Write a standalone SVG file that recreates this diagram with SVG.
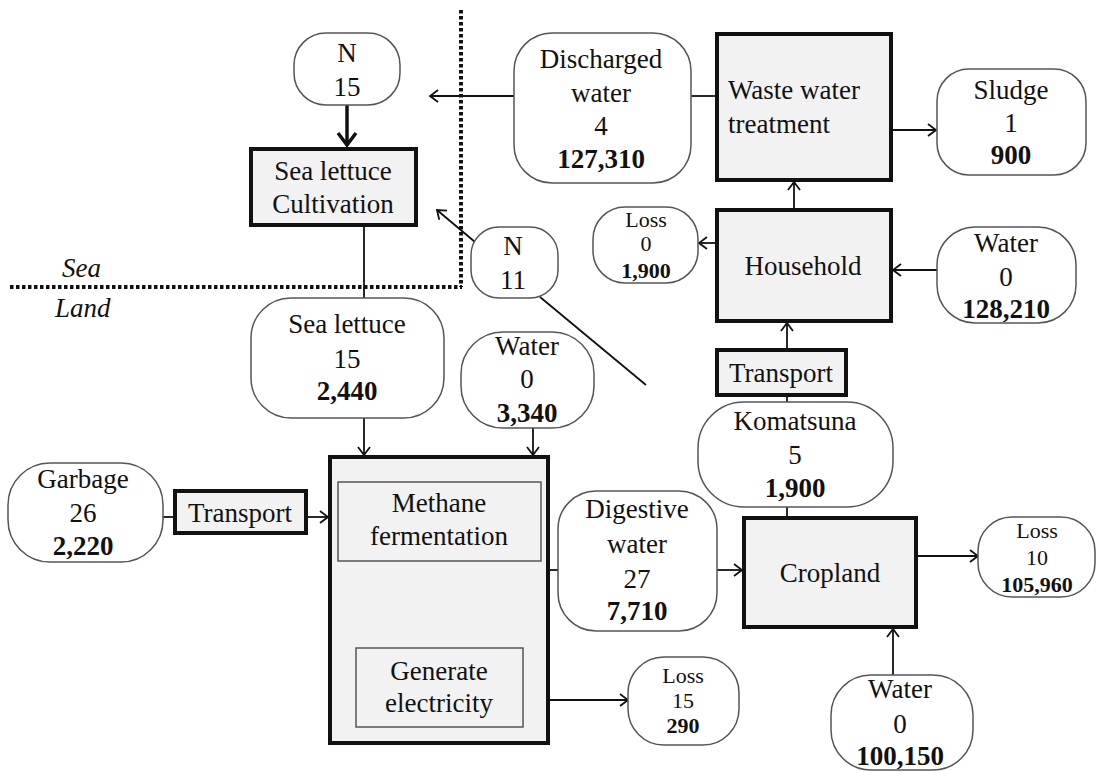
<svg xmlns="http://www.w3.org/2000/svg" width="1096" height="772" viewBox="0 0 1096 772">
  <style>
    text { font-family: "Liberation Serif", "Times New Roman", serif; font-size: 27px; fill: #111; text-anchor: middle; }
    .small { font-size: 22px; }
    .b { font-weight: bold; }
    .it { font-style: italic; text-anchor: start; }
    .start { text-anchor: start; }
    .proc { fill: #f2f2f2; stroke: #111; stroke-width: 4; }
    .inner { fill: #f2f2f2; stroke: #555; stroke-width: 1.5; }
    .flow { fill: #fff; stroke: #555; stroke-width: 1.5; }
    .link { stroke: #111; stroke-width: 1.8; fill: none; }
    .arrow { marker-end: url(#arr); }
    .border { stroke: #111; stroke-width: 4; stroke-dasharray: 3.5 2.5; fill: none; }
  </style>
  <defs>
    <marker id="arr" viewBox="0 0 10 14" refX="9" refY="7" markerWidth="10" markerHeight="14" markerUnits="userSpaceOnUse" orient="auto">
      <path d="M1,1 L9,7 L1,13" fill="none" stroke="#111" stroke-width="1.8"/>
    </marker>
    <marker id="arrBold" viewBox="0 0 16 22" refX="14" refY="11" markerWidth="16" markerHeight="22" markerUnits="userSpaceOnUse" orient="auto">
      <path d="M2,2 L14,11 L2,20" fill="none" stroke="#111" stroke-width="3.5"/>
    </marker>
  </defs>

  <rect width="1096" height="772" fill="#fff"/>

  <!-- sea / land boundary -->
  <g id="boundary">
    <line class="border" x1="10" y1="287" x2="462" y2="287"/>
    <line class="border" x1="461" y1="10" x2="461" y2="287"/>
    <text class="it" x="62" y="277">Sea</text>
    <text class="it" x="55" y="317">Land</text>
  </g>

  <!-- connectors -->
  <g id="connectors">
    <line x1="347" y1="105" x2="347" y2="145" stroke="#111" stroke-width="3.5" marker-end="url(#arrBold)"/>
    <line class="link" x1="364" y1="227" x2="364" y2="298"/>
    <line class="link arrow" x1="364" y1="418" x2="364" y2="455"/>
    <line class="link arrow" x1="533" y1="428" x2="533" y2="455"/>
    <line class="link" x1="163" y1="517" x2="173" y2="517"/>
    <line class="link arrow" x1="308" y1="517" x2="328" y2="517"/>
    <line class="link" x1="550" y1="570" x2="558" y2="570"/>
    <line class="link arrow" x1="717" y1="570" x2="742" y2="570"/>
    <line class="link arrow" x1="550" y1="700" x2="628" y2="700"/>
    <line class="link arrow" x1="918" y1="556" x2="978" y2="556"/>
    <line class="link arrow" x1="893" y1="675" x2="893" y2="629"/>
    <line class="link" x1="787" y1="516" x2="787" y2="507"/>
    <line class="link" x1="787" y1="402" x2="787" y2="397"/>
    <line class="link arrow" x1="787" y1="348" x2="787" y2="323"/>
    <line class="link arrow" x1="937" y1="270" x2="893" y2="270"/>
    <line class="link arrow" x1="715" y1="243" x2="699" y2="243"/>
    <line class="link arrow" x1="794" y1="208" x2="794" y2="182"/>
    <line class="link arrow" x1="893" y1="130" x2="936" y2="130"/>
    <line class="link" x1="715" y1="96" x2="691" y2="96"/>
    <line class="link arrow" x1="514" y1="96" x2="430" y2="96"/>
    <line class="link arrow" x1="475" y1="242" x2="437" y2="210"/>
    <line class="link" x1="540" y1="297" x2="646" y2="385"/>
  </g>

  <!-- nitrogen input -->
  <g id="n15">
    <rect class="flow" x="294" y="33" width="106" height="72" rx="32"/>
    <text x="347" y="62">N</text>
    <text x="347" y="96">15</text>
  </g>

  <g id="sea-lettuce-cultivation">
    <rect class="proc" x="251" y="149" width="165" height="76"/>
    <text x="333" y="180">Sea lettuce</text>
    <text x="333" y="213">Cultivation</text>
  </g>

  <g id="discharged-water">
    <rect class="flow" x="514" y="33" width="177" height="150" rx="38"/>
    <text x="601" y="68">Discharged</text>
    <text x="601" y="102">water</text>
    <text x="601" y="135">4</text>
    <text class="b" x="601" y="168">127,310</text>
  </g>

  <g id="waste-water-treatment">
    <rect class="proc" x="717" y="34" width="174" height="146"/>
    <text class="start" x="728" y="99">Waste water</text>
    <text class="start" x="728" y="133">treatment</text>
  </g>

  <g id="sludge">
    <rect class="flow" x="937" y="69" width="149" height="106" rx="32"/>
    <text x="1011" y="99">Sludge</text>
    <text x="1011" y="132">1</text>
    <text class="b" x="1011" y="164">900</text>
  </g>

  <g id="household-loss">
    <rect class="flow" x="593" y="207" width="105" height="76" rx="32"/>
    <text class="small" x="646" y="227">Loss</text>
    <text class="small" x="646" y="251">0</text>
    <text class="small b" x="646" y="278">1,900</text>
  </g>

  <g id="household">
    <rect class="proc" x="717" y="210" width="174" height="111"/>
    <text x="803" y="275">Household</text>
  </g>

  <g id="household-water">
    <rect class="flow" x="937" y="227" width="139" height="96" rx="38"/>
    <text x="1006" y="252">Water</text>
    <text x="1006" y="286">0</text>
    <text class="b" x="1006" y="318">128,210</text>
  </g>

  <g id="n11">
    <rect class="flow" x="471" y="227" width="87" height="71" rx="28"/>
    <text x="513" y="255">N</text>
    <text x="513" y="289">11</text>
  </g>

  <g id="sea-lettuce">
    <rect class="flow" x="251" y="298" width="193" height="120" rx="40"/>
    <text x="347" y="333">Sea lettuce</text>
    <text x="347" y="368">15</text>
    <text class="b" x="347" y="400">2,440</text>
  </g>

  <g id="fermentation-water">
    <rect class="flow" x="461" y="332" width="133" height="96" rx="42"/>
    <text x="527" y="355">Water</text>
    <text x="527" y="388">0</text>
    <text class="b" x="527" y="422">3,340</text>
  </g>

  <g id="garbage">
    <rect class="flow" x="8" y="463" width="155" height="99" rx="42"/>
    <text x="83" y="488">Garbage</text>
    <text x="83" y="522">26</text>
    <text class="b" x="83" y="555">2,220</text>
  </g>

  <g id="garbage-transport">
    <rect class="proc" x="175" y="491" width="131" height="42"/>
    <text x="240" y="522">Transport</text>
  </g>

  <g id="biogas-plant">
    <rect class="proc" x="330" y="457" width="218" height="286"/>
    <rect class="inner" x="338" y="482" width="203" height="79"/>
    <text x="439" y="512">Methane</text>
    <text x="439" y="545">fermentation</text>
    <rect class="inner" x="356" y="648" width="167" height="79"/>
    <text x="439" y="680">Generate</text>
    <text x="439" y="712">electricity</text>
  </g>

  <g id="digestive-water">
    <rect class="flow" x="558" y="491" width="159" height="140" rx="38"/>
    <text x="637" y="518">Digestive</text>
    <text x="637" y="553">water</text>
    <text x="637" y="588">27</text>
    <text class="b" x="637" y="620">7,710</text>
  </g>

  <g id="plant-loss">
    <rect class="flow" x="628" y="657" width="111" height="88" rx="36"/>
    <text class="small" x="683" y="683">Loss</text>
    <text class="small" x="683" y="708">15</text>
    <text class="small b" x="683" y="733">290</text>
  </g>

  <g id="komatsuna-transport">
    <rect class="proc" x="717" y="350" width="129" height="45"/>
    <text x="781" y="382">Transport</text>
  </g>

  <g id="komatsuna">
    <rect class="flow" x="698" y="402" width="195" height="105" rx="46"/>
    <text x="795" y="430">Komatsuna</text>
    <text x="795" y="464">5</text>
    <text class="b" x="795" y="497">1,900</text>
  </g>

  <g id="cropland">
    <rect class="proc" x="744" y="518" width="172" height="109"/>
    <text x="830" y="582">Cropland</text>
  </g>

  <g id="cropland-loss">
    <rect class="flow" x="978" y="517" width="117" height="80" rx="34"/>
    <text class="small" x="1037" y="538">Loss</text>
    <text class="small" x="1037" y="565">10</text>
    <text class="small b" x="1037" y="592">105,960</text>
  </g>

  <g id="cropland-water">
    <rect class="flow" x="831" y="675" width="142" height="95" rx="40"/>
    <text x="900" y="698">Water</text>
    <text x="900" y="733">0</text>
    <text class="b" x="900" y="765">100,150</text>
  </g>
</svg>
